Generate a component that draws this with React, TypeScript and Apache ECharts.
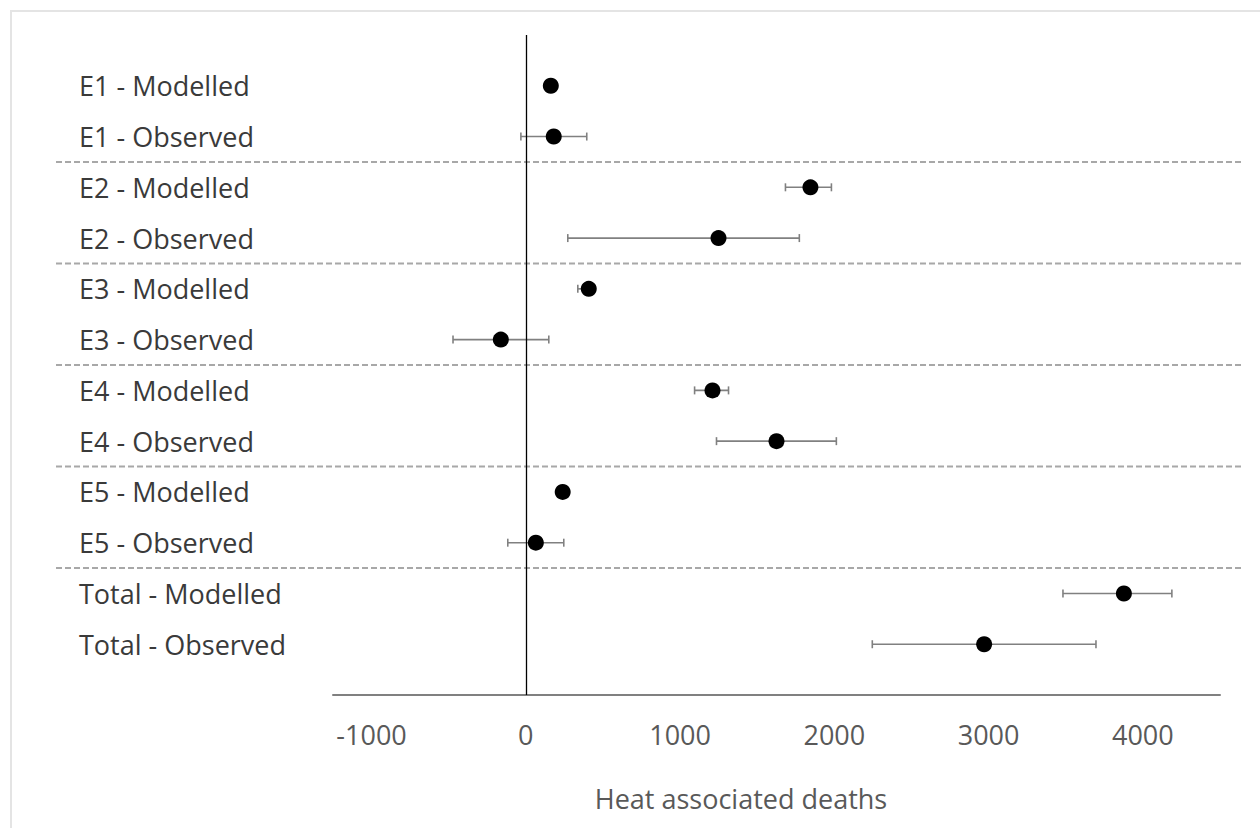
import React, { useEffect, useRef } from "react";
import * as echarts from "echarts";

const categories = [
  "E1 - Modelled",
  "E1 - Observed",
  "E2 - Modelled",
  "E2 - Observed",
  "E3 - Modelled",
  "E3 - Observed",
  "E4 - Modelled",
  "E4 - Observed",
  "E5 - Modelled",
  "E5 - Observed",
  "Total - Modelled",
  "Total - Observed",
];
const estimates = [162, 181, 1845, 1249, 408, -162, 1210, 1625, 239, 65, 3877, 2971];
const lower = [null, -32, 1683, 272, 337, -472, 1094, 1236, null, -117, 3482, 2246];
const upper = [null, 395, 1981, 1773, 440, 149, 1314, 2013, null, 246, 4188, 3696];
const xTicks = [-1000, 0, 1000, 2000, 3000, 4000];
const separators = [2.5, 4.5, 6.5, 8.5, 10.5];
const xTitle = "Heat associated deaths";

const FONT = "'Open Sans', 'Noto Sans', sans-serif";

export default function App() {
  const ref = useRef<HTMLDivElement>(null);
  useEffect(() => {
    if (!ref.current) return;
    const chart = echarts.init(ref.current, null, { renderer: "svg" });
    const rows = categories.map((_, i) => i + 1);
    const pointData = estimates.map((v, i) => [v, rows[i]]);
    const errData = categories
      .map((_, i) => [lower[i], upper[i], rows[i]])
      .filter((d) => d[0] !== null && d[1] !== null);
    const sepData = separators.map((s) => [0, s]);

    chart.setOption({
      animation: false,
      backgroundColor: "#ffffff",
      textStyle: { fontFamily: FONT },
      title: {
        text: xTitle,
        left: 736,
        top: 780,
        textAlign: "center",
        textStyle: { fontFamily: FONT, fontSize: 27, fontWeight: "normal", color: "#595959" },
      },
      graphic: [
        {
          type: "rect",
          shape: { x: 11, y: 11, width: 1400, height: 1000 },
          style: { fill: "none", stroke: "#e4e4e4", lineWidth: 2 },
          silent: true,
        },
      ],
      grid: { left: 333, top: 35, width: 887, height: 660, containLabel: false },
      xAxis: {
        type: "value",
        position: "bottom",
        min: -1250,
        max: 4500,
        axisLine: { show: true, onZero: false, lineStyle: { color: "#808080", width: 2 } },
        axisTick: { show: false },
        splitLine: { show: false },
        axisLabel: {
          customValues: xTicks,
          formatter: (v: number) => String(v),
          fontFamily: FONT,
          fontSize: 27,
          color: "#595959",
          margin: 26,
        },
      },
      yAxis: {
        type: "value",
        min: 0,
        max: 13,
        inverse: true,
        axisLine: { show: false, onZero: false },
        axisTick: { show: false },
        splitLine: { show: false },
        axisLabel: {
          customValues: rows,
          formatter: (v: number) => categories[v - 1] || "",
          align: "left",
          margin: 254,
          fontFamily: FONT,
          fontSize: 27,
          color: "#3a3a3a",
        },
      },
      series: [
        {
          type: "custom",
          coordinateSystem: "cartesian2d",
          silent: true,
          clip: false,
          data: sepData,
          renderItem: (params: any, api: any) => {
            const y = api.coord([0, api.value(1)])[1];
            return {
              type: "line",
              shape: { x1: 56, y1: y, x2: 1241, y2: y },
              style: { stroke: "#a8a8a8", lineWidth: 2, lineDash: [6, 3] },
            };
          },
          z: 1,
        },
        {
          type: "custom",
          coordinateSystem: "cartesian2d",
          silent: true,
          data: errData,
          encode: { x: [0, 1], y: 2 },
          renderItem: (params: any, api: any) => {
            const p1 = api.coord([api.value(0), api.value(2)]);
            const p2 = api.coord([api.value(1), api.value(2)]);
            const h = 4;
            const style = { stroke: "#808080", lineWidth: 1.6 };
            return {
              type: "group",
              children: [
                { type: "line", shape: { x1: p1[0], y1: p1[1], x2: p2[0], y2: p2[1] }, style },
                { type: "line", shape: { x1: p1[0], y1: p1[1] - h, x2: p1[0], y2: p1[1] + h }, style },
                { type: "line", shape: { x1: p2[0], y1: p2[1] - h, x2: p2[0], y2: p2[1] + h }, style },
              ],
            };
          },
          z: 2,
        },
        {
          type: "scatter",
          data: pointData,
          symbol: "circle",
          symbolSize: 16,
          itemStyle: { color: "#000000", opacity: 1 },
          z: 4,
          markLine: {
            silent: true,
            symbol: "none",
            label: { show: false },
            lineStyle: { color: "#000000", width: 1.3, type: "solid", opacity: 1 },
            data: [{ xAxis: 0 }],
            z: 3,
          },
        },
      ],
    });
    return () => chart.dispose();
  }, []);
  return (
    <div
      ref={ref}
      style={{ position: "fixed", left: 0, top: 0, width: 1260, height: 828, background: "#fff" }}
    />
  );
}
